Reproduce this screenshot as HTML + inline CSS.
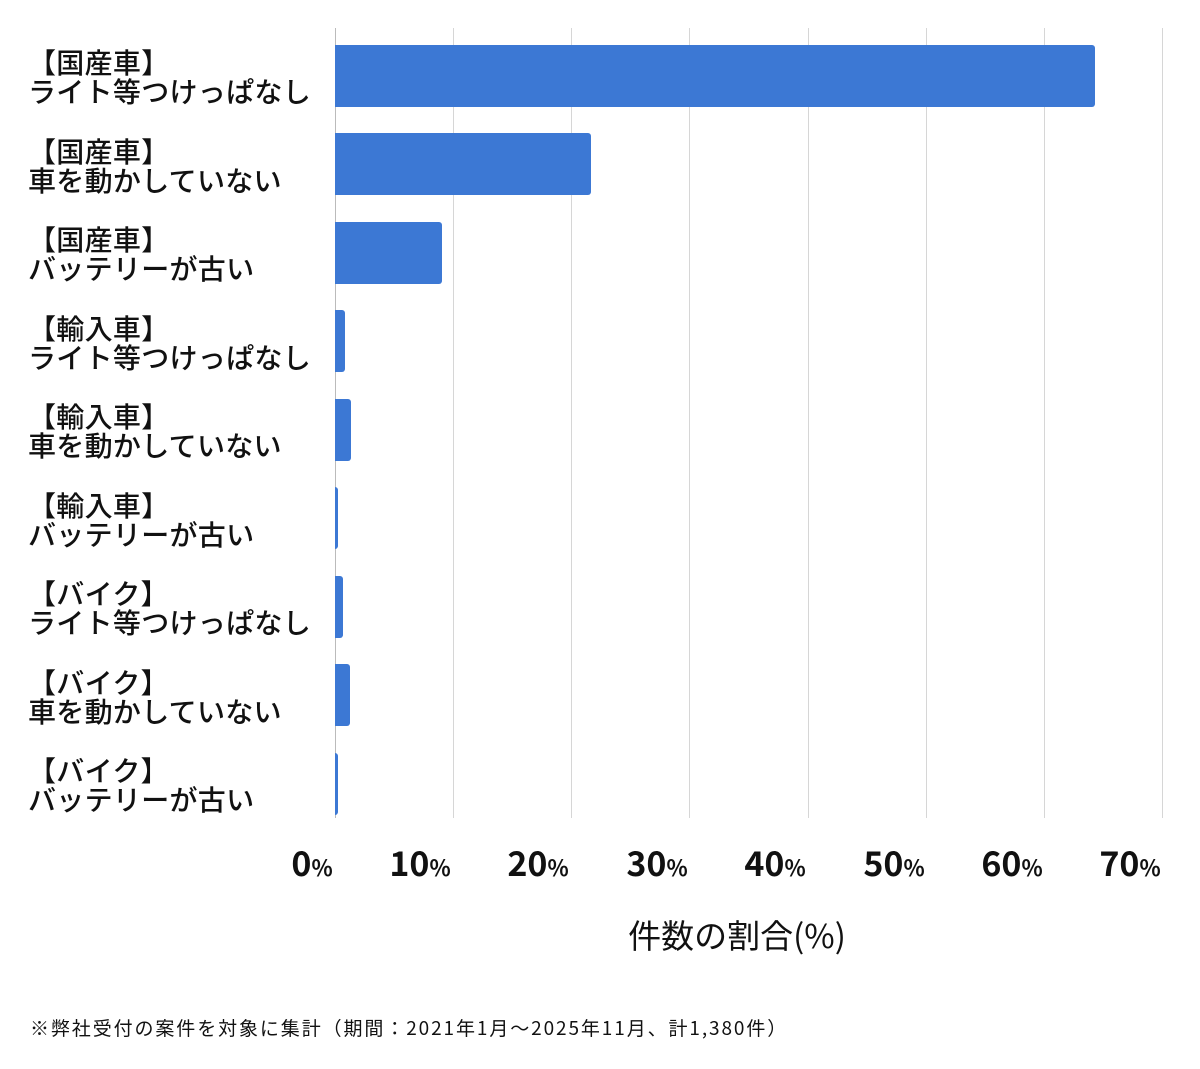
<!DOCTYPE html>
<html><head><meta charset="utf-8"><style>
body{margin:0;background:#fff;width:1200px;height:1069px;position:relative;overflow:hidden;font-family:"Noto Sans CJK JP","Liberation Sans",sans-serif;color:#111}
.g{position:absolute;top:28px;height:790px;width:1px;background:#d6d6d6}
.bar{position:absolute;left:335px;height:62px;background:#3c78d4;border-radius:0 3px 3px 0}
.lab{position:absolute;left:28px;font-size:28px;letter-spacing:0.3px;line-height:29px;white-space:nowrap;font-weight:500}
.t{position:absolute;top:838px;font-size:34px;font-weight:bold;width:140px;text-align:center;line-height:48px}
.t span{font-size:22px}
</style></head><body>
<div class="g" style="left:335px;background:#bbb"></div>
<div class="g" style="left:453px"></div>
<div class="g" style="left:571px"></div>
<div class="g" style="left:689px"></div>
<div class="g" style="left:808px"></div>
<div class="g" style="left:926px"></div>
<div class="g" style="left:1044px"></div>
<div class="g" style="left:1162px"></div>

<div class="bar" style="top:45px;width:760px"></div>
<div class="bar" style="top:133px;width:256px"></div>
<div class="bar" style="top:222px;width:107px"></div>
<div class="bar" style="top:310px;width:10px"></div>
<div class="bar" style="top:399px;width:16px"></div>
<div class="bar" style="top:487px;width:3px"></div>
<div class="bar" style="top:576px;width:8px"></div>
<div class="bar" style="top:664px;width:15px"></div>
<div class="bar" style="top:753px;width:3px"></div>

<div class="lab" style="top:48px">【国産車】<br>ライト等つけっぱなし</div>
<div class="lab" style="top:137px">【国産車】<br>車を動かしていない</div>
<div class="lab" style="top:225px">【国産車】<br>バッテリーが古い</div>
<div class="lab" style="top:314px">【輸入車】<br>ライト等つけっぱなし</div>
<div class="lab" style="top:402px">【輸入車】<br>車を動かしていない</div>
<div class="lab" style="top:491px">【輸入車】<br>バッテリーが古い</div>
<div class="lab" style="top:579px">【バイク】<br>ライト等つけっぱなし</div>
<div class="lab" style="top:668px">【バイク】<br>車を動かしていない</div>
<div class="lab" style="top:756px">【バイク】<br>バッテリーが古い</div>

<div class="t" style="left:242px">0<span>%</span></div>
<div class="t" style="left:350px">10<span>%</span></div>
<div class="t" style="left:468px">20<span>%</span></div>
<div class="t" style="left:587px">30<span>%</span></div>
<div class="t" style="left:705px">40<span>%</span></div>
<div class="t" style="left:824px">50<span>%</span></div>
<div class="t" style="left:942px">60<span>%</span></div>
<div class="t" style="left:1060px">70<span>%</span></div>

<div style="position:absolute;left:537px;width:400px;text-align:center;top:911px;font-size:33px;line-height:46px">件数の割合(%)</div>
<div style="position:absolute;left:30px;top:1014px;font-size:19px;line-height:28px;letter-spacing:1.9px">※弊社受付の案件を対象に集計（期間：2021年1月〜2025年11月、計1,380件）</div>
</body></html>
